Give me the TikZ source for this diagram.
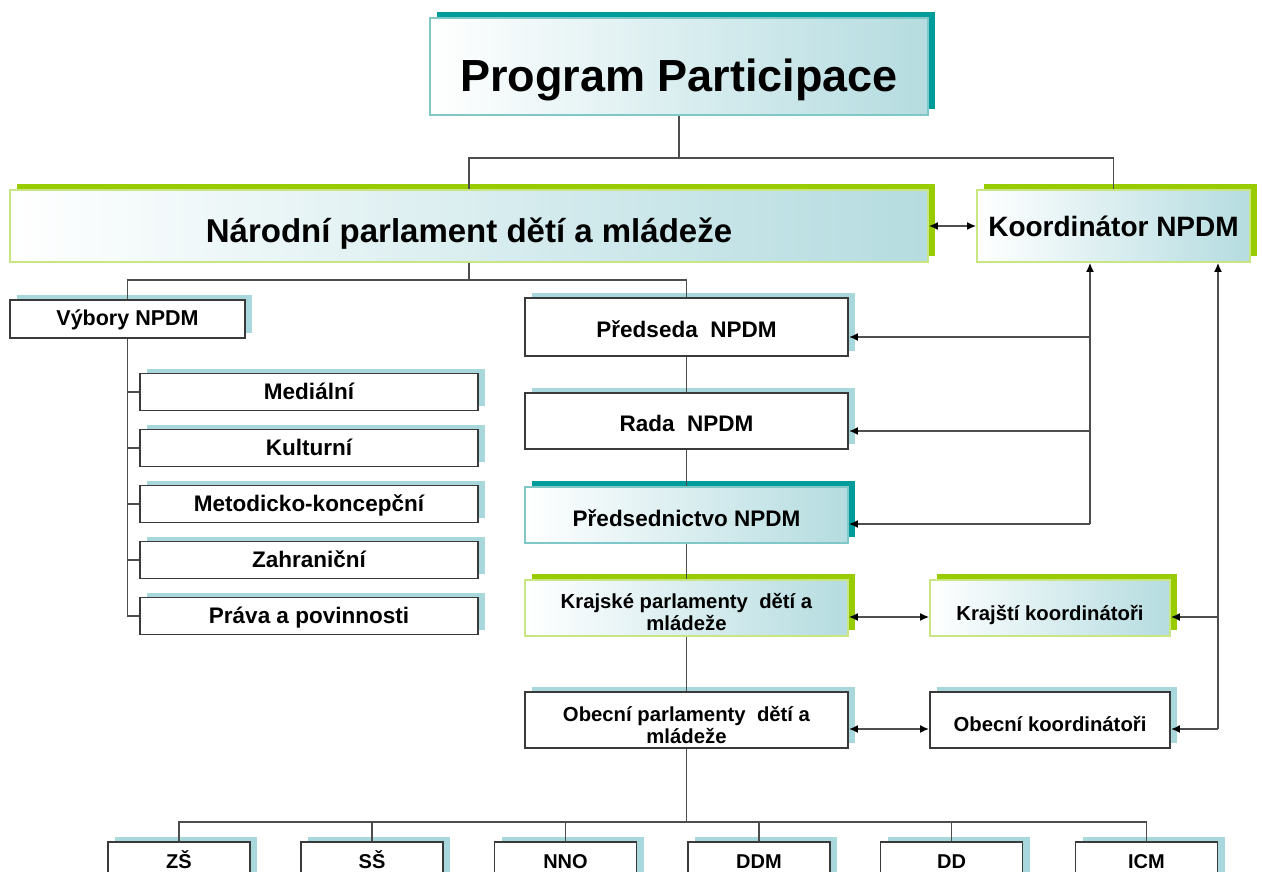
\documentclass[tikz,border=0pt]{standalone}
\usepackage{fontspec}
\setmainfont{Liberation Sans}
\usetikzlibrary{shadows,arrows.meta,calc}
\definecolor{tealD}{HTML}{009B9B}
\definecolor{tealL}{HTML}{A8D8DC}
\definecolor{tealB}{HTML}{80C8C8}
\definecolor{grnD}{HTML}{99CC00}
\definecolor{grnB}{HTML}{C8E682}
\definecolor{gradR}{HTML}{B5DCE0}
\definecolor{lineC}{HTML}{4D4D4D}
\definecolor{boxC}{HTML}{3A3A3A}
% text whose last baseline sits #1 below the node centre
\newcommand{\bxt}[2]{\raisebox{-#1}[0pt][0pt]{\begin{tabular}[b]{@{}c@{}}#2\end{tabular}}}
\begin{document}
\begin{tikzpicture}[x=1pt,y=-1pt,
  base/.style={rectangle, inner sep=0pt, text=black},
  fmid/.style={font=\bfseries\fontsize{22.5}{25}\selectfont},
  fsmall/.style={font=\bfseries\fontsize{20.3}{22}\selectfont},
  plain/.style={base, draw=boxC, line width=1.8pt, fill=white,
    general shadow={fill=tealL, shadow xshift=7pt, shadow yshift=5pt}},
  tealbox/.style={base, draw=tealB, line width=1.6pt, left color=white, right color=gradR,
    general shadow={fill=tealD, shadow xshift=7pt, shadow yshift=6pt}},
  greenbox/.style={base, draw=grnB, line width=1.6pt, left color=white, right color=gradR,
    general shadow={fill=grnD, shadow xshift=7pt, shadow yshift=6pt}},
  conn/.style={draw=lineC, line width=1.8pt},
  arr/.style={conn, -{Latex[length=9pt,width=8pt,color=black]}},
  dbl/.style={conn, {Latex[length=9pt,width=8pt,color=black]}-{Latex[length=9pt,width=8pt,color=black]}}]
\useasboundingbox (0,0) rectangle (1262,872);
\fill[white] (0,0) rectangle (1262,872);
\clip (0,0) rectangle (1262,872);

% top
\node[tealbox, minimum width=498pt, minimum height=97pt, font=\bfseries\fontsize{45}{54}\selectfont] (title) at (679,66.5) {\bxt{25.5pt}{Program Participace}};
\node[greenbox, minimum width=918pt, minimum height=72pt, font=\bfseries\fontsize{33}{38}\selectfont] (nat) at (469,226) {\bxt{16pt}{Národní parlament dětí a mládeže}};
\node[greenbox, minimum width=273pt, minimum height=72pt, font=\bfseries\fontsize{28}{33}\selectfont] (koord) at (1113.5,226) {\bxt{10pt}{Koordinátor NPDM}};

% left committees
\node[plain, font=\bfseries\fontsize{21.5}{24}\selectfont, minimum width=235pt, minimum height=38pt] (vyb) at (127.5,319) {\bxt{6pt}{Výbory NPDM}};
\node[plain, fmid, minimum width=338pt, minimum height=37pt] (m1) at (309,392) {\bxt{7pt}{Mediální}};
\node[plain, fmid, minimum width=338pt, minimum height=37pt] (m2) at (309,448) {\bxt{7pt}{Kulturní}};
\node[plain, fmid, minimum width=338pt, minimum height=37pt] (m3) at (309,504) {\bxt{7pt}{Metodicko-koncepční}};
\node[plain, fmid, minimum width=338pt, minimum height=37pt] (m4) at (309,560) {\bxt{7pt}{Zahraniční}};
\node[plain, fmid, minimum width=338pt, minimum height=37pt] (m5) at (309,616) {\bxt{7pt}{Práva a povinnosti}};

% middle column
\node[plain, fmid, minimum width=323pt, minimum height=58pt] (pre) at (686.5,327) {\bxt{10pt}{Předseda~ NPDM}};
\node[plain, fmid, minimum width=323pt, minimum height=56pt] (rada) at (686.5,421) {\bxt{10pt}{Rada~ NPDM}};
\node[tealbox, fmid, minimum width=323pt, minimum height=56pt] (psn) at (686.5,515) {\bxt{11pt}{Předsednictvo NPDM}};
\node[greenbox, fsmall, minimum width=323pt, minimum height=56pt] (kraj) at (686.5,608) {\bxt{22.5pt}{Krajské parlamenty~ dětí a\\mládeže}};
\node[plain, fsmall, minimum width=323pt, minimum height=56pt] (obec) at (686.5,720) {\bxt{23pt}{Obecní parlamenty~ dětí a\\mládeže}};

% right coordinators
\node[greenbox, fsmall, minimum width=240pt, minimum height=56pt] (krk) at (1050,608) {\bxt{12pt}{Krajští koordinátoři}};
\node[plain, fsmall, minimum width=240pt, minimum height=56pt] (obk) at (1050,720) {\bxt{11pt}{Obecní koordinátoři}};

% bottom row
\foreach \n/\x/\t in {b1/179/ZŠ, b2/372/SŠ, b3/565.5/NNO, b4/759/DDM, b5/951.5/DD, b6/1146.5/ICM}
  \node[plain, font=\bfseries\fontsize{20}{22}\selectfont, minimum width=142pt, minimum height=40pt] (\n) at (\x,862) {\bxt{6pt}{\t}};

% helper coordinates
\coordinate (bus0) at (0,158);
\coordinate (bus1) at (0,280);
\coordinate (bus2) at (0,822);
\coordinate (v1) at (1090,0);
\coordinate (v2) at (1218,0);
\coordinate (pA) at ([yshift=-10pt]pre.east);
\coordinate (pB) at ([yshift=-10pt]rada.east);
\coordinate (pC) at ([yshift=-9pt]psn.east);
\coordinate (kA) at ([yshift=-9pt]krk.east);
\coordinate (kB) at ([yshift=-9pt]obk.east);

% tree connectors
\draw[conn] (title.south) -- (title.south |- bus0);
\draw[conn] (nat.north) -- (nat.north |- bus0) -- (koord.north |- bus0) -- (koord.north);
\draw[conn] (nat.south) -- (nat.south |- bus1);
\draw[conn] (vyb.north) -- (vyb.north |- bus1) -- (pre.north |- bus1) -- (pre.north);
\draw[conn] (vyb.south) |- (m5.west);
\foreach \m in {m1,m2,m3,m4} \draw[conn] (vyb.south |- \m.west) -- (\m.west);
\draw[conn] (pre.south) -- (rada.north);
\draw[conn] (rada.south) -- (psn.north);
\draw[conn] (psn.south) -- (kraj.north);
\draw[conn] (kraj.south) -- (obec.north);
\draw[conn] (obec.south) -- (obec.south |- bus2);
\draw[conn] (b1.north) -- (b1.north |- bus2) -- (b6.north |- bus2) -- (b6.north);
\foreach \b in {b2,b3,b4,b5} \draw[conn] (\b.north) -- (\b.north |- bus2);

% arrows
\draw[dbl] (nat.east) -- (koord.west);
\draw[dbl] ([yshift=-9pt]kraj.east) -- ([yshift=-9pt]krk.west);
\draw[dbl] ([yshift=-9pt]obec.east) -- ([yshift=-9pt]obk.west);
\draw[arr] (pC -| v1) -- (koord.south -| v1);
\draw[arr] (pA -| v1) -- (pA);
\draw[arr] (pB -| v1) -- (pB);
\draw[arr] (pC -| v1) -- (pC);
\draw[arr] (kB -| v2) -- (koord.south -| v2);
\draw[arr] (kA -| v2) -- (kA);
\draw[arr] (kB -| v2) -- (kB);
\end{tikzpicture}
\end{document}
